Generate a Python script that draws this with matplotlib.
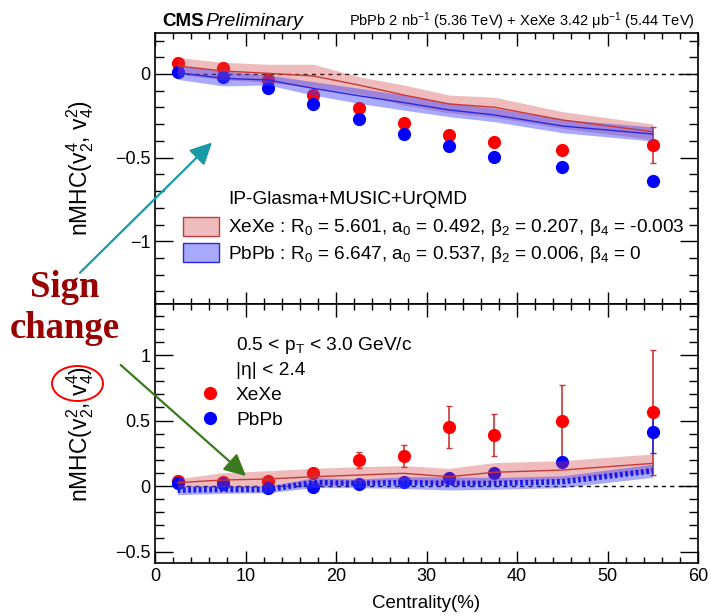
import matplotlib
matplotlib.use("Agg")
import matplotlib.pyplot as plt
from matplotlib.ticker import MultipleLocator, FuncFormatter
from matplotlib.patches import Rectangle, Ellipse, FancyArrowPatch
from matplotlib.lines import Line2D

plt.rcParams['font.family'] = ['Liberation Sans', 'DejaVu Sans']
plt.rcParams['mathtext.fontset'] = 'custom'
plt.rcParams['mathtext.rm'] = 'Liberation Sans'
plt.rcParams['mathtext.it'] = 'Liberation Sans:italic'
plt.rcParams['mathtext.bf'] = 'Liberation Sans:bold'

# ---------------- data ----------------
centrality = [2.5, 7.5, 12.5, 17.5, 22.5, 27.5, 32.5, 37.5, 45, 55]

# top panel: nMHC(v2^4, v4^2)
top_xexe = [0.068, 0.034, -0.036, -0.126, -0.201, -0.291, -0.365, -0.408, -0.454, -0.424]
top_xexe_err = [0.01, 0.01, 0.01, 0.01, 0.012, 0.015, 0.015, 0.02, 0.025, 0.107]
top_pbpb = [0.014, -0.016, -0.082, -0.179, -0.271, -0.361, -0.428, -0.494, -0.554, -0.640]
top_pbpb_err = [0.005, 0.005, 0.005, 0.006, 0.008, 0.01, 0.01, 0.012, 0.015, 0.02]
top_xexe_model = [0.048, 0.018, 0.004, -0.012, -0.066, -0.126, -0.179, -0.199, -0.275, -0.345]
top_xexe_model_err = [0.05, 0.052, 0.054, 0.07, 0.05, 0.06, 0.053, 0.06, 0.05, 0.046]
top_pbpb_model = [0.008, -0.026, -0.036, -0.086, -0.130, -0.171, -0.215, -0.245, -0.311, -0.359]
top_pbpb_model_err = [0.04, 0.045, 0.03, 0.04, 0.045, 0.045, 0.04, 0.04, 0.04, 0.042]

# bottom panel: nMHC(v2^2, v4^4)
bot_xexe = [0.038, 0.033, 0.038, 0.097, 0.199, 0.230, 0.454, 0.390, 0.497, 0.564]
bot_xexe_err = [0.02, 0.02, 0.02, 0.03, 0.064, 0.083, 0.16, 0.158, 0.276, 0.478]
bot_pbpb = [0.026, 0.013, -0.013, -0.005, 0.015, 0.033, 0.059, 0.097, 0.181, 0.416]
bot_pbpb_err = [0.01, 0.01, 0.01, 0.01, 0.01, 0.015, 0.02, 0.02, 0.03, 0.162]
bot_xexe_model = [0.026, 0.046, 0.054, 0.071, 0.084, 0.097, 0.071, 0.105, 0.122, 0.173]
bot_xexe_model_err = [0.03, 0.056, 0.063, 0.064, 0.064, 0.059, 0.064, 0.074, 0.072, 0.072]
bot_pbpb_model = [-0.031, -0.026, -0.026, 0.026, 0.020, 0.026, 0.020, 0.020, 0.033, 0.117]
bot_pbpb_model_err = [0.035, 0.03, 0.025, 0.038, 0.033, 0.045, 0.05, 0.045, 0.045, 0.05]

xexe_label = "XeXe : R$_0$ = 5.601, a$_0$ = 0.492, β$_2$ = 0.207, β$_4$ = -0.003"
pbpb_label = "PbPb : R$_0$ = 6.647, a$_0$ = 0.537, β$_2$ = 0.006, β$_4$ = 0"

# ---------------- style ----------------
RED = '#ff0000'
BLUE = '#0000ff'
RED_BAND = '#d04040'
BLUE_BAND = '#4040ff'
RED_LINE = '#c83838'
BLUE_LINE = '#2828e0'

W, H = 711, 616
fig = plt.figure(figsize=(W / 100, H / 100), dpi=100)

def fx(x):
    return x / W

def fy(y):
    return 1 - y / H

left, right = 155, 698
ax1 = fig.add_axes([fx(left), fy(304), (right - left) / W, (304 - 33) / H])
ax2 = fig.add_axes([fx(left), fy(563.3), (right - left) / W, (563.3 - 304) / H])

def fmt(v, pos):
    s = '%g' % v
    if s == '-0':
        s = '0'
    return s.replace('-', '\u2212')

for ax in (ax1, ax2):
    ax.set_xlim(0, 60)
    ax.xaxis.set_major_locator(MultipleLocator(10))
    ax.xaxis.set_minor_locator(MultipleLocator(2))
    ax.yaxis.set_minor_locator(MultipleLocator(0.1))
    ax.yaxis.set_major_locator(MultipleLocator(0.5))
    ax.yaxis.set_major_formatter(FuncFormatter(fmt))
    ax.xaxis.set_major_formatter(FuncFormatter(fmt))
    ax.tick_params(which='both', direction='in', top=True, right=True, labelsize=13, width=1)
    ax.tick_params(axis='x', which='major', length=9)
    ax.tick_params(axis='x', which='minor', length=4.5)
    ax.tick_params(axis='y', which='major', length=13)
    ax.tick_params(axis='y', which='minor', length=6.5)
    for sp in ax.spines.values():
        sp.set_linewidth(1.2)
    ax.plot([2.5, 60], [0, 0], ls=(0, (3, 3)), color='black', lw=1, zorder=1)

ax1.set_ylim(-1.375, 0.245)
ax2.set_ylim(-0.59, 1.39)
ax1.tick_params(axis='x', labelbottom=False)

def band(ax, y, e, color, alpha):
    lo = [a - b for a, b in zip(y, e)]
    hi = [a + b for a, b in zip(y, e)]
    ax.fill_between(centrality, lo, hi, color=color, alpha=alpha, lw=0, zorder=4)

ms = 9.5
# top panel
ax1.errorbar(centrality, top_xexe, yerr=top_xexe_err, fmt='none', ecolor=RED_LINE, elinewidth=1.2, capsize=2.5, zorder=2)
ax1.errorbar(centrality, top_pbpb, yerr=top_pbpb_err, fmt='none', ecolor=BLUE_LINE, elinewidth=1.2, capsize=2.5, zorder=2)
ax1.plot(centrality, top_xexe, 'o', color=RED, ms=ms, mew=0, zorder=3)
ax1.plot(centrality, top_pbpb, 'o', color=BLUE, ms=ms, mew=0, zorder=3)
band(ax1, top_xexe_model, top_xexe_model_err, RED_BAND, 0.35)
band(ax1, top_pbpb_model, top_pbpb_model_err, BLUE_BAND, 0.45)
ax1.plot(centrality, top_xexe_model, color=RED_LINE, lw=1, zorder=5)
ax1.plot(centrality, top_pbpb_model, color=BLUE_LINE, lw=1, zorder=5)

# bottom panel
ax2.errorbar(centrality, bot_xexe, yerr=bot_xexe_err, fmt='none', ecolor=RED_LINE, elinewidth=1.2, capsize=2.5, zorder=2)
ax2.errorbar(centrality, bot_pbpb, yerr=bot_pbpb_err, fmt='none', ecolor=BLUE_LINE, elinewidth=1.2, capsize=2.5, zorder=2)
ax2.plot(centrality, bot_xexe, 'o', color=RED, ms=ms, mew=0, zorder=3)
ax2.plot(centrality, bot_pbpb, 'o', color=BLUE, ms=ms, mew=0, zorder=3)
band(ax2, bot_xexe_model, bot_xexe_model_err, RED_BAND, 0.35)
band(ax2, bot_pbpb_model, bot_pbpb_model_err, BLUE_BAND, 0.45)
ax2.plot(centrality, bot_xexe_model, color=RED_LINE, lw=1, zorder=5)
ax2.plot(centrality, bot_pbpb_model, color='#1a1ae8', lw=4, ls=(0, (0.5, 0.45)), zorder=5)

ax2.set_xlabel('Centrality(%)', fontsize=13.5, labelpad=7)
ax1.set_ylabel('nMHC(v$_2^4$, v$_4^2$)', fontsize=16.5)
ax2.set_ylabel('nMHC(v$_2^2$, v$_4^4$)', fontsize=16.5)
ax1.yaxis.set_label_coords((96 - left) / (right - left), 0.5)
ax2.yaxis.set_label_coords((96 - left) / (right - left), 0.5)

# header
fig.text(fx(162), fy(26), 'CMS', fontsize=13.5, fontweight='bold', va='baseline', ha='left')
fig.text(fx(205), fy(26), 'Preliminary', fontsize=14, style='italic', va='baseline', ha='left')
fig.text(fx(695), fy(26), 'PbPb 2 nb$^{-1}$ (5.36 TeV) + XeXe 3.42 μb$^{-1}$ (5.44 TeV)',
         fontsize=10.5, va='baseline', ha='right')

# top legend
fs_leg = 13.7
fig.text(fx(228), fy(200), 'IP-Glasma+MUSIC+UrQMD', fontsize=13.8, va='center', ha='left')
fig.add_artist(Rectangle((fx(183), fy(236)), 36 / W, 19 / H, transform=fig.transFigure,
                         facecolor=RED_BAND, alpha=0.35, lw=0))
fig.add_artist(Rectangle((fx(183), fy(236)), 36 / W, 19 / H, transform=fig.transFigure,
                         facecolor='none', edgecolor=RED_LINE, lw=1))
fig.add_artist(Rectangle((fx(183), fy(262)), 36 / W, 19 / H, transform=fig.transFigure,
                         facecolor=BLUE_BAND, alpha=0.45, lw=0))
fig.add_artist(Rectangle((fx(183), fy(262)), 36 / W, 19 / H, transform=fig.transFigure,
                         facecolor='none', edgecolor=BLUE_LINE, lw=1))
fig.text(fx(228), fy(232), xexe_label, fontsize=fs_leg, va='baseline', ha='left')
fig.text(fx(228), fy(258.5), pbpb_label, fontsize=fs_leg, va='baseline', ha='left')

# bottom legend
fig.text(fx(236), fy(350), '0.5 < p$_\\mathrm{T}$ < 3.0 GeV/c', fontsize=13.8, va='baseline', ha='left')
fig.text(fx(236), fy(375), '|η| < 2.4', fontsize=13.8, va='baseline', ha='left')
fig.add_artist(Line2D([fx(210)], [fy(393)], transform=fig.transFigure, marker='o', color=RED, ms=ms, mew=0, ls='none'))
fig.add_artist(Line2D([fx(210)], [fy(418)], transform=fig.transFigure, marker='o', color=BLUE, ms=ms, mew=0, ls='none'))
fig.text(fx(236), fy(400), 'XeXe', fontsize=13.8, va='baseline', ha='left')
fig.text(fx(236), fy(425), 'PbPb', fontsize=13.8, va='baseline', ha='left')

# annotations
dred = '#990000'
fig.text(fx(65), fy(296.7), 'Sign', fontsize=26.5, fontweight='bold', family='Liberation Serif',
         color=dred, ha='center', va='baseline')
fig.text(fx(65), fy(338.3), 'change', fontsize=26.5, fontweight='bold', family='Liberation Serif',
         color=dred, ha='center', va='baseline')
fig.add_artist(FancyArrowPatch((fx(80), fy(272.7)), (fx(212), fy(142.5)), transform=fig.transFigure,
                               arrowstyle='-|>,head_length=6,head_width=3', color='#1a9aa6', lw=1.6,
                               shrinkA=0, shrinkB=0, mutation_scale=2.2))
fig.add_artist(FancyArrowPatch((fx(120.7), fy(365)), (fx(246), fy(476)), transform=fig.transFigure,
                               arrowstyle='-|>,head_length=6,head_width=3', color='#3a7a1e', lw=1.6,
                               shrinkA=0, shrinkB=0, mutation_scale=2.2))
fig.add_artist(Ellipse((fx(77.5), fy(383.5)), 51 / W, 35 / H, transform=fig.transFigure,
                       facecolor='none', edgecolor='red', lw=1.4))

fig.savefig('out.png', dpi=100)
